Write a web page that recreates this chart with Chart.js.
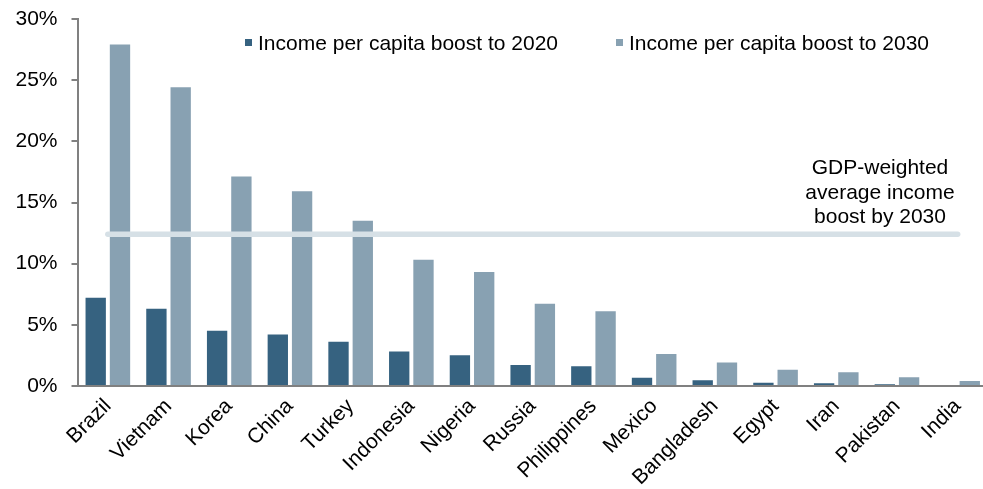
<!DOCTYPE html>
<html>
<head>
<meta charset="utf-8">
<script src="https://cdn.jsdelivr.net/npm/chart.js@4.4.1/dist/chart.umd.min.js"></script>
<style>
  html, body { margin: 0; padding: 0; background: #fff; overflow: hidden; }
  #wrap { position: relative; width: 988px; height: 489px; }
</style>
</head>
<body>
<div id="wrap"><canvas id="boost-chart"></canvas></div>
<script>
const countries = ['Brazil', 'Vietnam', 'Korea', 'China', 'Turkey', 'Indonesia', 'Nigeria',
  'Russia', 'Philippines', 'Mexico', 'Bangladesh', 'Egypt', 'Iran', 'Pakistan', 'India'];
const boost2020 = [7.3, 6.4, 4.6, 4.3, 3.7, 2.9, 2.6, 1.8, 1.7, 0.75, 0.55, 0.35, 0.3, 0.2, 0];
const boost2030 = [28.0, 24.5, 17.2, 16.0, 13.6, 10.4, 9.4, 6.8, 6.2, 2.7, 2.0, 1.4, 1.2, 0.8, 0.5];
const avgBoost2030 = 12.4;
const yTicks = [0, 5, 10, 15, 20, 25, 30];
const seriesNames = ['Income per capita boost to 2020', 'Income per capita boost to 2030'];
const avgNote = ['GDP-weighted', 'average income', 'boost by 2030'];

const FONT = "'Liberation Sans', Arial, sans-serif";
const dark = '#366280';
const light = '#88a1b2';

// legend drawn inside the plot area, plus the note above the average line
const overlayPlugin = {
  id: 'overlay',
  afterDraw(chart) {
    const ctx = chart.ctx;
    ctx.save();
    ctx.font = '21px ' + FONT;
    ctx.fillStyle = '#000';
    ctx.textBaseline = 'alphabetic';

    const legendX = [245, 616];
    chart.data.datasets.slice(0, 2).forEach((ds, i) => {
      ctx.fillStyle = ds.backgroundColor;
      ctx.fillRect(legendX[i], 39, 7, 7);
      ctx.fillStyle = '#000';
      ctx.textAlign = 'left';
      ctx.fillText(ds.label, legendX[i] + 13, 50);
    });

    const lineY = chart.scales.y.getPixelForValue(avgBoost2030);
    ctx.textAlign = 'center';
    avgNote.forEach((line, i) => {
      ctx.fillText(line, 880, lineY - 60 + i * 24.3);
    });
    ctx.restore();
  }
};

new Chart(document.getElementById('boost-chart'), {
  type: 'bar',
  data: {
    labels: countries,
    datasets: [
      {
        label: seriesNames[0],
        data: boost2020,
        backgroundColor: dark,
        borderColor: 'rgba(255,255,255,0.35)',
        borderWidth: { top: 1, left: 1, right: 1, bottom: 0 },
        categoryPercentage: 0.8,
        barPercentage: 0.92,
        order: 1
      },
      {
        label: seriesNames[1],
        data: boost2030,
        backgroundColor: light,
        borderColor: 'rgba(255,255,255,0.35)',
        borderWidth: { top: 1, left: 1, right: 1, bottom: 0 },
        categoryPercentage: 0.8,
        barPercentage: 0.92,
        order: 1
      },
      {
        type: 'line',
        label: avgNote.join(' '),
        data: countries.map(() => avgBoost2030),
        borderColor: '#d6e0e6',
        borderWidth: 5.5,
        borderCapStyle: 'round',
        pointRadius: 0,
        fill: false,
        order: 0
      }
    ]
  },
  options: {
    responsive: true,
    maintainAspectRatio: false,
    animation: false,
    layout: { padding: { top: 19, right: 0, left: 0, bottom: 0 } },
    plugins: {
      legend: { display: false },
      tooltip: { enabled: false }
    },
    scales: {
      x: {
        grid: { display: false },
        border: { color: '#808080', width: 2 },
        ticks: {
          color: '#000',
          font: { family: FONT, size: 21 },
          minRotation: 45,
          maxRotation: 45,
          padding: 0
        },
        afterFit(scale) { scale.height = 103; }
      },
      y: {
        min: 0,
        max: 30,
        afterBuildTicks(scale) {
          scale.ticks = yTicks.map(v => ({ value: v }));
        },
        grid: {
          drawOnChartArea: false,
          drawTicks: true,
          tickLength: 6,
          color: '#808080',
          lineWidth: 2
        },
        border: { color: '#808080', width: 2 },
        ticks: {
          color: '#000',
          font: { family: FONT, size: 21 },
          padding: 14,
          callback: v => v + '%'
        },
        afterFit(scale) {
          scale.width = 77.5;
          scale.paddingTop = 0;
          scale.paddingBottom = 0;
        }
      }
    }
  },
  plugins: [overlayPlugin]
});
</script>
</body>
</html>
